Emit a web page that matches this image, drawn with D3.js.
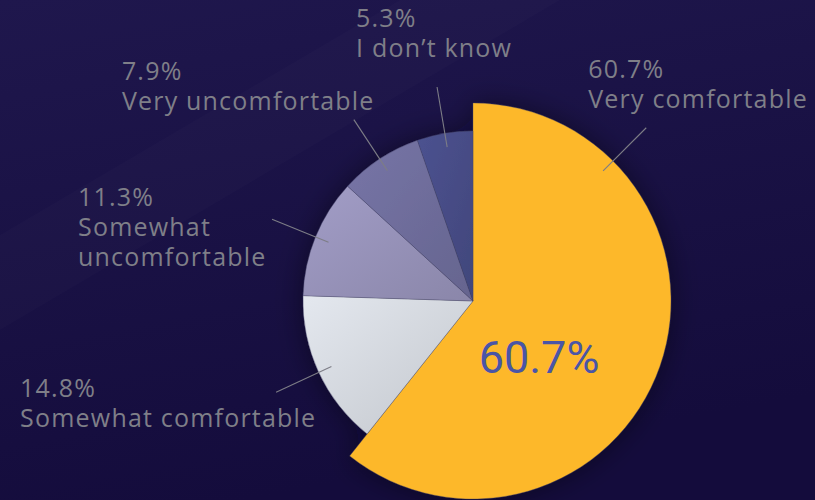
<!DOCTYPE html>
<html>
<head>
<meta charset="utf-8">
<script src="https://cdn.jsdelivr.net/npm/d3@7"></script>
<style>
  html, body { margin: 0; padding: 0; background: #180f42; }
  svg { display: block; }
</style>
</head>
<body>
<svg id="chart" width="815" height="500"></svg>
<script>
// Survey answers and their shares (percent)
const categories = ["Very comfortable", "Somewhat comfortable", "Somewhat uncomfortable", "Very uncomfortable", "I don’t know"];
const shares = [60.7, 14.8, 11.3, 7.9, 5.3];
const sliceColors = ["#FDB829", "#E4E8EF", "#A29DC7", "#7775A7", "#4C5290"];
const calloutText = "60.7%";

const W = 815, H = 500;
const cx = 473, cy = 301;
const baseRadius = 170, bigRadius = 198;
const labelFont = "'Open Sans', sans-serif";
const labelSize = 25;
const labelSpacing = 1.2;

const svg = d3.select("#chart");
const defs = svg.append("defs");

// background
const bg = defs.append("linearGradient").attr("id", "bg").attr("x1", 0).attr("y1", 0).attr("x2", 0.3).attr("y2", 1);
bg.append("stop").attr("offset", 0).attr("stop-color", "#1f174d");
bg.append("stop").attr("offset", 1).attr("stop-color", "#140c3c");
svg.append("rect").attr("width", W).attr("height", H).attr("fill", "url(#bg)");
svg.append("polygon")
  .attr("points", "0,330 560,0 400,0 0,235")
  .attr("fill", "#ffffff").attr("opacity", 0.015);

// soft shadow under the pie
const sh = defs.append("filter").attr("id", "shadow").attr("x", "-30%").attr("y", "-30%").attr("width", "160%").attr("height", "160%");
sh.append("feDropShadow").attr("dx", 0).attr("dy", 0).attr("stdDeviation", 14)
  .attr("flood-color", "#05021a").attr("flood-opacity", 0.45);

const data = categories.map((c, i) => ({ category: c, value: shares[i], color: sliceColors[i] }));
const pie = d3.pie().sort(null).value(d => d.value).startAngle(0).endAngle(2 * Math.PI);
const arcs = pie(data);

// the leading answer is drawn with a larger radius
const radiusOf = d => d.index === 0 ? bigRadius : baseRadius;
const arc = d3.arc().innerRadius(0).outerRadius(radiusOf);

// per-slice shading: lighter at the top-left, darker toward the lower right
arcs.forEach((d, i) => {
  if (i === 0) return;
  const g = defs.append("linearGradient").attr("id", "sg" + i)
    .attr("x1", 0).attr("y1", 0).attr("x2", 1).attr("y2", 1);
  g.append("stop").attr("offset", 0).attr("stop-color", d.data.color);
  g.append("stop").attr("offset", 1).attr("stop-color", d3.color(d.data.color).darker(0.45));
});

const root = svg.append("g").attr("transform", `translate(${cx},${cy})`);
const pieG = root.append("g").attr("filter", "url(#shadow)");
pieG.selectAll("path.slice").data(arcs).join("path")
  .attr("class", "slice")
  .attr("d", arc)
  .attr("fill", (d, i) => i === 0 ? d.data.color : `url(#sg${i})`)
  .attr("stroke", "rgba(70,70,100,0.55)")
  .attr("stroke-width", 0.6);

// label ticks
const labelAngle = d => d.index === 0 ? Math.PI / 4 : (d.startAngle + d.endAngle) / 2;
const polar = (a, r) => [r * Math.sin(a), -r * Math.cos(a)];

root.selectAll("line.tick").data(arcs).join("line")
  .attr("class", "tick")
  .attr("x1", d => polar(labelAngle(d), radiusOf(d) - 14)[0])
  .attr("y1", d => polar(labelAngle(d), radiusOf(d) - 14)[1])
  .attr("x2", d => polar(labelAngle(d), radiusOf(d) + 47)[0])
  .attr("y2", d => polar(labelAngle(d), radiusOf(d) + 47)[1])
  .attr("stroke", "#7d7d86").attr("stroke-width", 1.1);

// label block placement relative to the tick end: left edge, first baseline, wrap width
const labelLayout = [
  { dx: -58, dy: -50, wrap: 400 },
  { dx: -256, dy: 4.6, wrap: 400 },
  { dx: -194, dy: -13.5, wrap: 200 },
  { dx: -232, dy: -39.6, wrap: 400 },
  { dx: -81, dy: -60.3, wrap: 400 }
];
const lineGap = 30;

arcs.forEach((d, i) => {
  const [ax, ay] = polar(labelAngle(d), radiusOf(d) + 47);
  const L = labelLayout[i];
  const t = root.append("text")
    .attr("font-family", labelFont).attr("font-size", labelSize)
    .attr("letter-spacing", labelSpacing)
    .attr("fill", "#7f7f88");
  const x0 = ax + L.dx, y0 = ay + L.dy;
  t.append("tspan").attr("x", x0).attr("y", y0).text(d3.format(".1f")(d.data.value) + "%");
  // word wrap the category name
  const words = d.data.category.split(" ");
  let line = [], row = 1;
  let ts = t.append("tspan").attr("x", x0).attr("y", y0 + lineGap * row);
  words.forEach(w => {
    line.push(w);
    ts.text(line.join(" "));
    if (ts.node().getComputedTextLength() > L.wrap && line.length > 1) {
      line.pop();
      ts.text(line.join(" "));
      line = [w];
      row++;
      ts = t.append("tspan").attr("x", x0).attr("y", y0 + lineGap * row).text(w);
    }
  });
});

// big value on the leading slice
root.append("text")
  .attr("x", 66).attr("y", 72)
  .attr("text-anchor", "middle")
  .attr("font-family", "Roboto, sans-serif").attr("font-size", 45)
  .attr("fill", "#4a55a6")
  .text(calloutText);
</script>
</body>
</html>
